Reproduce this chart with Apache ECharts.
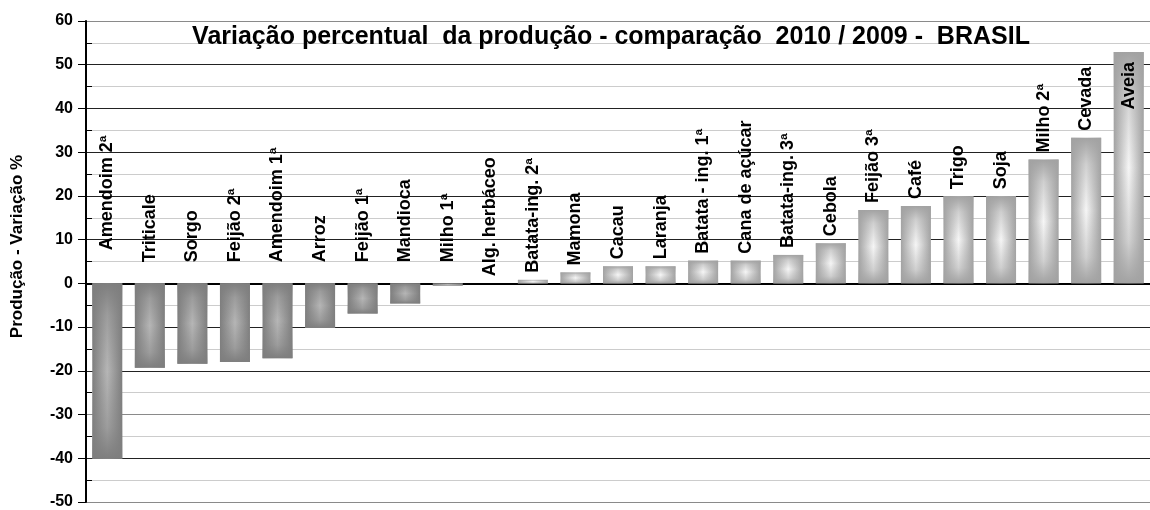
<!DOCTYPE html>
<html>
<head>
<meta charset="utf-8">
<script src="https://cdn.jsdelivr.net/npm/echarts@6/dist/echarts.min.js"></script>
<style>
  html, body { margin: 0; padding: 0; background: #fff; }
  #chart { width: 1150px; height: 510px; }
</style>
</head>
<body>
<div id="chart"></div>
<script>
// data (% change 2010 vs 2009)
var categories = ['Amendoim 2ª', 'Triticale', 'Sorgo', 'Feijão 2ª', 'Amendoim 1ª', 'Arroz', 'Feijão 1ª',
  'Mandioca', 'Milho 1ª', 'Alg. herbáceo', 'Batata-ing. 2ª', 'Mamona', 'Cacau', 'Laranja',
  'Batata - ing. 1ª', 'Cana de açúcar', 'Batata-ing. 3ª', 'Cebola', 'Feijão 3ª', 'Café', 'Trigo',
  'Soja', 'Milho 2ª', 'Cevada', 'Aveia'];
var values = [-40.1, -19.3, -18.4, -18.0, -17.1, -10.2, -6.9, -4.6, -0.5, 0, 0.8, 2.5, 3.9, 3.9,
  5.2, 5.2, 6.5, 9.2, 16.8, 17.7, 19.9, 19.9, 28.3, 33.3, 52.9];
var yMin = -50, yMax = 60, yStep = 10;

var titleText = 'Variação percentual  da produção - comparação  2010 / 2009 -  BRASIL';
var yName = 'Produção - Variação %';

var FONT = '"Liberation Sans", Arial, sans-serif';

function hGrad(v) {
  var edge = v < 0 ? '#7e7e7e' : '#a2a2a2';
  var mid = v < 0 ? '#b6b6b6' : '#f6f6f6';
  return { type: 'linear', x: 0, y: 0, x2: 1, y2: 0,
    colorStops: [{ offset: 0, color: edge }, { offset: 0.5, color: mid }, { offset: 1, color: edge }] };
}
function vGrad(v) {
  var c = v < 0 ? '126,126,126' : '162,162,162';
  return { type: 'linear', x: 0, y: 0, x2: 0, y2: 1,
    colorStops: [
      { offset: 0, color: 'rgba(' + c + ',1)' },
      { offset: 0.18, color: 'rgba(' + c + ',0.45)' },
      { offset: 0.5, color: 'rgba(' + c + ',0)' },
      { offset: 0.82, color: 'rgba(' + c + ',0.45)' },
      { offset: 1, color: 'rgba(' + c + ',1)' }] };
}

var mainData = values.map(function (v) {
  return { value: v, itemStyle: { color: hGrad(v) } };
});
// top layer: vertical shading + the category labels
var shadeData = values.map(function (v) {
  var lbl = { distance: v < -30 ? 33 : (v < 0 ? 21 : 7) };
  if (v > 50) {
    lbl = { position: 'insideTop', align: 'right', distance: 10 };
  }
  return { value: v, itemStyle: { color: vGrad(v) }, label: lbl };
});

var chart = echarts.init(document.getElementById('chart'));

chart.setOption({
  backgroundColor: '#fff',
  animation: false,
  title: {
    text: titleText,
    left: 606, top: 20, textAlign: 'center',
    textStyle: { fontFamily: FONT, fontSize: 25, fontWeight: 'bold', color: '#000' }
  },
  grid: { left: 86, right: -7, top: 21, bottom: 3 },
  xAxis: {
    type: 'category',
    data: categories,
    axisLine: { onZero: true, lineStyle: { color: '#000', width: 2 } },
    axisTick: { show: false },
    axisLabel: { show: false },
    splitLine: { show: false }
  },
  yAxis: [{
    type: 'value',
    min: yMin, max: yMax, interval: yStep,
    name: yName,
    nameLocation: 'middle',
    nameGap: 60,
    nameRotate: 90,
    nameTextStyle: { fontFamily: FONT, fontSize: 17, fontWeight: 'bold', color: '#000', padding: [0, 0, 0, 30] },
    axisLine: { show: true, lineStyle: { color: '#000', width: 2 } },
    axisTick: { show: true, length: 8, lineStyle: { color: '#000' } },
    axisLabel: { margin: 13, fontFamily: FONT, fontSize: 16, fontWeight: 'bold', color: '#000' },
    splitLine: { show: true, lineStyle: { width: 1,
      color: ['#8a8a8a', '#222', '#8a8a8a', '#222', '#222', '#222', '#222', '#222', '#222', '#222', '#222', '#8a8a8a'] } },
    minorTick: { show: false, splitNumber: 2 },
    minorSplitLine: { show: true, lineStyle: { color: '#cccccc', width: 1 } }
  }, {
    type: 'value',
    position: 'left',
    min: yMin, max: yMax, interval: yStep,
    axisLine: { show: false },
    axisTick: { show: false, inside: true },
    axisLabel: { show: false },
    splitLine: { show: false },
    minorTick: { show: true, splitNumber: 2, length: 6, lineStyle: { color: '#000' } }
  }],
  series: [{
    type: 'bar',
    data: mainData,
    barWidth: 30,
    z: 2
  }, {
    type: 'bar',
    data: shadeData,
    barWidth: 30,
    barGap: '-100%',
    silent: true,
    z: 3,
    label: {
      show: true,
      position: 'top',
      rotate: 90,
      align: 'left',
      verticalAlign: 'middle',
      formatter: function (p) { return p.name; },
      fontFamily: FONT, fontSize: 18, fontWeight: 'bold', color: '#000'
    }
  }]
});
</script>
</body>
</html>
